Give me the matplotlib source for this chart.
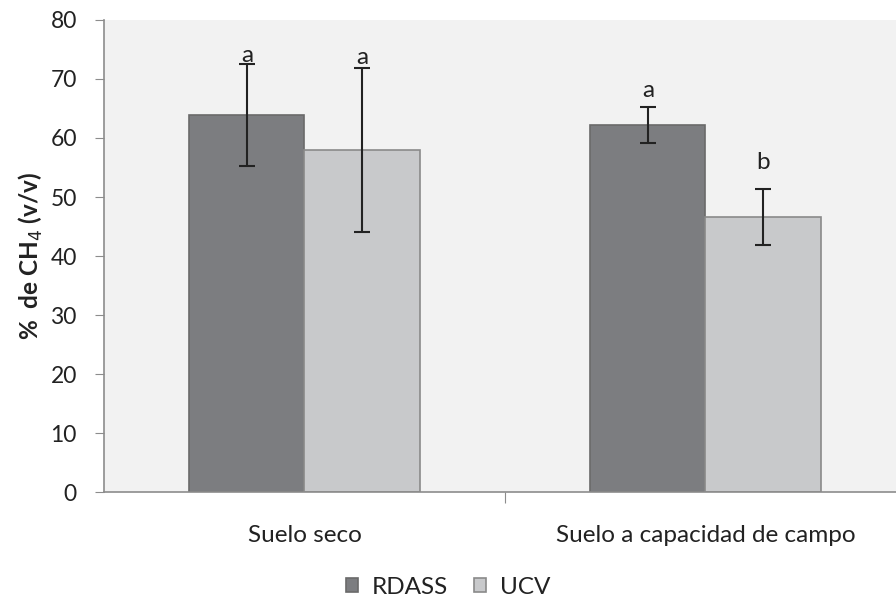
import numpy as np
import matplotlib.pyplot as plt

# ----------------------------
# Data
# ----------------------------
categories = ["Suelo seco", "Suelo a capacidad de campo"]
series_names = ["RDASS", "UCV"]
rdass_mean = [63.9, 62.2]
rdass_err = [8.6, 3.0]
ucv_mean = [58.0, 46.6]
ucv_err = [13.9, 4.8]
rdass_letters = ["a", "a"]
ucv_letters = ["a", "b"]
rdass_letter_y = [74.0, 68.0]
ucv_letter_y = [73.6, 55.8]

colors = ["#7c7d80", "#c8c9cb"]
edge = "#6a6a6a"
FS = 17.5

plt.rcParams['font.family'] = ['Lato', 'DejaVu Sans']

fig = plt.figure(figsize=(8.96, 6.04), dpi=100)
ax = fig.add_axes([0.116, 0.1854, 0.884, 0.7815])
ax.set_facecolor("#f2f2f2")

x = np.arange(len(categories))
w = 0.287

ax.bar(x - w / 2, rdass_mean, w, color=colors[0], edgecolor=edge, linewidth=1.2,
       label=series_names[0], zorder=2)
ax.bar(x + w / 2, ucv_mean, w, color=colors[1], edgecolor="#8a8a8a", linewidth=1.2,
       label=series_names[1], zorder=2)
ax.errorbar(x - w / 2, rdass_mean, yerr=rdass_err, fmt="none", ecolor="#222222",
            elinewidth=1.5, capsize=6, capthick=1.5, zorder=3)
ax.errorbar(x + w / 2, ucv_mean, yerr=ucv_err, fmt="none", ecolor="#222222",
            elinewidth=1.5, capsize=6, capthick=1.5, zorder=3)

for i in range(len(categories)):
    ax.text(x[i] - w / 2, rdass_letter_y[i], rdass_letters[i], ha="center", va="center",
            fontsize=FS, color="#222222", zorder=4)
    ax.text(x[i] + w / 2, ucv_letter_y[i], ucv_letters[i], ha="center", va="center",
            fontsize=FS, color="#222222", zorder=4)

ax.set_xlim(-0.5, -0.5 + 792 / 401)
ax.set_ylim(0, 80)
ax.set_yticks(range(0, 81, 10))
ax.tick_params(axis="y", labelsize=16.5, length=6.5, color="#8c8c8c", labelcolor="#222222", pad=13)

# category labels, with tick marks only at the boundary between groups
ax.set_xticks([0.5], minor=False)
ax.set_xticklabels([""])
ax.tick_params(axis="x", length=8, color="#8c8c8c")
for i, c in enumerate(categories):
    ax.text(x[i], -7.3, c, ha="center", va="center", fontsize=FS, color="#222222")

for s in ["top", "right"]:
    ax.spines[s].set_visible(False)
ax.spines["left"].set_color("#8c8c8c")
ax.spines["bottom"].set_color("#8c8c8c")
ax.spines["left"].set_linewidth(1.2)
ax.spines["bottom"].set_linewidth(1.2)

ax.set_ylabel("%  de CH$_4$ (v/v)", fontsize=FS, fontweight="bold", color="#222222")
ax.yaxis.set_label_coords(-0.074, 0.5)

fig.legend(loc="center", bbox_to_anchor=(0.5, 1 - 587 / 604), ncol=2, frameon=False,
           fontsize=FS, handlelength=0.5, handleheight=0.5, handletextpad=0.55,
           columnspacing=1.1, labelcolor="#222222")

fig.savefig("out.png", dpi=100, facecolor="white")
